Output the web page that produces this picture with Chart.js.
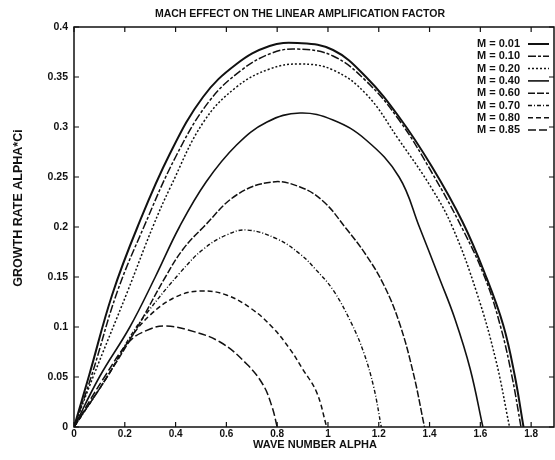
<!DOCTYPE html>
<html>
<head>
<meta charset="utf-8">
<script src="https://cdn.jsdelivr.net/npm/chart.js@4"></script>
<style>
  html, body { margin: 0; padding: 0; background: #fff; }
  #wrap { width: 555px; height: 460px; }
</style>
</head>
<body>
<div id="wrap"><canvas id="growth"></canvas></div>
<script>
const machLabels = ['0.01', '0.10', '0.20', '0.40', '0.60', '0.70', '0.80', '0.85'];

// wave number alpha / growth rate alpha*Ci for each Mach number
const alphaM001 = [0, 0.06, 0.15, 0.25, 0.377, 0.508, 0.64, 0.77, 0.88, 1.02, 1.15, 1.28, 1.41, 1.53, 1.62, 1.69, 1.735, 1.77];
const rateM001  = [0, 0.052, 0.132, 0.20, 0.273, 0.330, 0.363, 0.381, 0.384, 0.377, 0.350, 0.310, 0.26, 0.205, 0.152, 0.102, 0.052, 0];

const alphaM010 = [0, 0.07, 0.17, 0.275, 0.40, 0.53, 0.66, 0.78, 0.88, 1.02, 1.15, 1.28, 1.41, 1.53, 1.62, 1.68, 1.725, 1.76];
const rateM010  = [0, 0.052, 0.135, 0.20, 0.27, 0.325, 0.357, 0.374, 0.378, 0.371, 0.346, 0.307, 0.254, 0.198, 0.148, 0.10, 0.05, 0];

const alphaM020 = [0, 0.075, 0.21, 0.31, 0.38, 0.51, 0.64, 0.77, 0.89, 1.02, 1.15, 1.28, 1.41, 1.49, 1.585, 1.66, 1.715];
const rateM020  = [0, 0.05, 0.135, 0.20, 0.24, 0.305, 0.34, 0.358, 0.363, 0.357, 0.333, 0.287, 0.238, 0.20, 0.135, 0.068, 0];

const alphaM040 = [0, 0.1, 0.22, 0.32, 0.415, 0.52, 0.64, 0.76, 0.89, 1.02, 1.15, 1.28, 1.36, 1.44, 1.50, 1.56, 1.61];
const rateM040  = [0, 0.05, 0.10, 0.15, 0.20, 0.245, 0.282, 0.305, 0.314, 0.307, 0.287, 0.25, 0.20, 0.148, 0.108, 0.058, 0];

const alphaM060 = [0, 0.13, 0.25, 0.36, 0.43, 0.51, 0.64, 0.78, 0.89, 0.98, 1.07, 1.15, 1.22, 1.28, 1.335, 1.38];
const rateM060  = [0, 0.05, 0.10, 0.15, 0.178, 0.20, 0.232, 0.245, 0.240, 0.226, 0.199, 0.172, 0.142, 0.105, 0.055, 0];

const alphaM070 = [0, 0.13, 0.22, 0.29, 0.42, 0.51, 0.60, 0.68, 0.80, 0.89, 0.95, 1.02, 1.09, 1.14, 1.18, 1.21];
const rateM070  = [0, 0.05, 0.09, 0.115, 0.155, 0.178, 0.192, 0.197, 0.188, 0.173, 0.158, 0.137, 0.105, 0.075, 0.04, 0];

const alphaM080 = [0, 0.13, 0.22, 0.30, 0.40, 0.50, 0.60, 0.70, 0.78, 0.85, 0.90, 0.955, 0.995];
const rateM080  = [0, 0.05, 0.088, 0.112, 0.13, 0.136, 0.132, 0.118, 0.10, 0.078, 0.058, 0.035, 0];

const alphaM085 = [0, 0.12, 0.22, 0.30, 0.36, 0.45, 0.575, 0.68, 0.745, 0.78, 0.80];
const rateM085  = [0, 0.05, 0.086, 0.098, 0.101, 0.097, 0.085, 0.063, 0.042, 0.02, 0];

const xTickStep = 0.2;
const yTickStep = 0.05;

const alphas = [alphaM001, alphaM010, alphaM020, alphaM040, alphaM060, alphaM070, alphaM080, alphaM085];
const rates  = [rateM001, rateM010, rateM020, rateM040, rateM060, rateM070, rateM080, rateM085];

const dashes = [[], [8, 2, 3, 2], [2, 2], [], [7, 2], [4, 2, 1, 2], [5, 3], [8, 3]];
const widths = [2, 1.5, 1.5, 1.6, 1.5, 1.4, 1.5, 1.5];

const FONT = "'Liberation Sans Narrow', 'Liberation Sans', Arial, sans-serif";

const datasets = machLabels.map((m, i) => ({
  label: m,
  data: alphas[i].map((a, j) => ({ x: a, y: rates[i][j] })),
  borderColor: '#111',
  borderWidth: widths[i],
  borderDash: dashes[i],
  pointRadius: 0,
  fill: false,
  tension: 0.4
}));

// frame, inward ticks, titles and legend drawn gnuplot-style
const gnuFrame = {
  id: 'gnuFrame',
  afterDraw(chart) {
    const c = chart.ctx;
    const a = chart.chartArea;
    const xs = chart.scales.x, ys = chart.scales.y;
    c.save();
    c.strokeStyle = '#111';
    c.lineWidth = 1.5;
    c.setLineDash([]);
    c.strokeRect(a.left, a.top, a.right - a.left, a.bottom - a.top);

    c.lineWidth = 1.2;
    c.beginPath();
    xs.ticks.forEach(t => {
      const px = xs.getPixelForValue(t.value);
      c.moveTo(px, a.bottom); c.lineTo(px, a.bottom - 5);
      c.moveTo(px, a.top); c.lineTo(px, a.top + 5);
    });
    ys.ticks.forEach(t => {
      const py = ys.getPixelForValue(t.value);
      c.moveTo(a.left, py); c.lineTo(a.left + 5, py);
      c.moveTo(a.right, py); c.lineTo(a.right - 5, py);
    });
    c.stroke();

    c.fillStyle = '#111';
    c.textBaseline = 'middle';
    c.textAlign = 'center';
    c.font = 'bold 10.5px ' + FONT;
    c.fillText('MACH EFFECT ON THE LINEAR AMPLIFICATION FACTOR', 300, 14);
    c.font = 'bold 11px ' + FONT;
    c.fillText('WAVE NUMBER ALPHA', 315, 445);

    c.save();
    c.translate(19, 208);
    c.rotate(-Math.PI / 2);
    c.font = 'bold 12.5px ' + FONT;
    c.fillText('GROWTH RATE ALPHA*Ci', 0, 0);
    c.restore();

    // legend: text then line sample
    c.font = 'bold 11px ' + FONT;
    c.textAlign = 'left';
    chart.data.datasets.forEach((ds, i) => {
      const y = 44 + i * 12.3;
      c.fillText('M = ' + ds.label, 477, y);
      c.beginPath();
      c.lineWidth = ds.borderWidth;
      c.setLineDash(ds.borderDash);
      c.moveTo(528, y); c.lineTo(549, y);
      c.stroke();
    });
    c.restore();
  }
};

new Chart(document.getElementById('growth'), {
  type: 'line',
  data: { datasets: datasets },
  options: {
    responsive: true,
    maintainAspectRatio: false,
    animation: false,
    layout: { padding: { top: 27, right: 1, left: 0, bottom: 0 } },
    plugins: {
      legend: { display: false },
      tooltip: { enabled: false }
    },
    scales: {
      x: {
        type: 'linear',
        min: 0,
        max: 1.89,
        afterFit(scale) { scale.height = 33; },
        grid: { display: false, drawTicks: false },
        border: { display: false },
        ticks: {
          stepSize: xTickStep,
          includeBounds: false,
          autoSkip: false,
          maxRotation: 0,
          padding: 1,
          color: '#111',
          font: { family: FONT, size: 10, weight: 'bold' },
          callback: v => String(+v.toFixed(2))
        }
      },
      y: {
        type: 'linear',
        min: 0,
        max: 0.4,
        afterFit(scale) { scale.width = 74; },
        grid: { display: false, drawTicks: false },
        border: { display: false },
        ticks: {
          stepSize: yTickStep,
          padding: 6,
          color: '#111',
          font: { family: FONT, size: 10.5, weight: 'bold' },
          callback: v => String(+v.toFixed(2))
        }
      }
    }
  },
  plugins: [gnuFrame]
});
</script>
</body>
</html>
